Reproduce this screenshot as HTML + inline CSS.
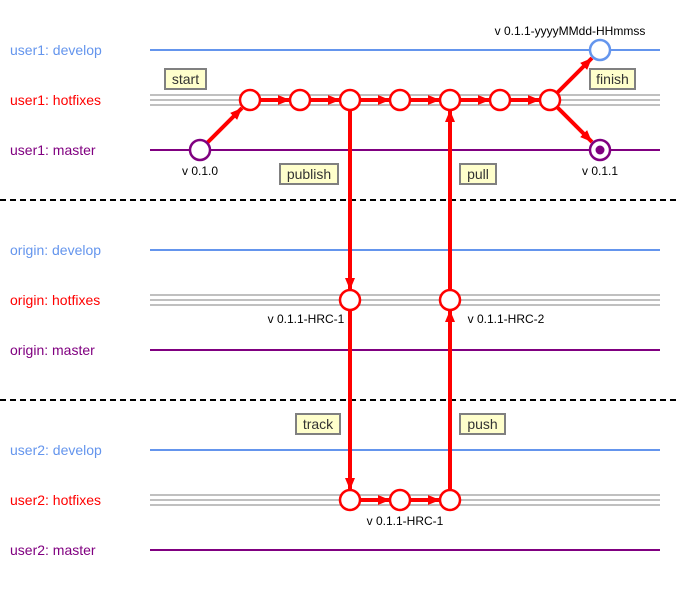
<!DOCTYPE html>
<html><head><style>body{margin:0;background:#fff}svg{display:block}</style></head><body>
<svg width="680" height="600" xmlns="http://www.w3.org/2000/svg" font-family="Liberation Sans, sans-serif">
<defs><marker id="a" markerWidth="12" markerHeight="10" refX="12" refY="5" orient="auto" markerUnits="userSpaceOnUse"><path d="M0,0L12,5L0,10z" fill="#f00"/></marker></defs>
<g font-size="14">
<text x="10" y="55" fill="#6495ed">user1: develop</text>
<text x="10" y="105" fill="#f00">user1: hotfixes</text>
<text x="10" y="155" fill="#800080">user1: master</text>
<text x="10" y="255" fill="#6495ed">origin: develop</text>
<text x="10" y="305" fill="#f00">origin: hotfixes</text>
<text x="10" y="355" fill="#800080">origin: master</text>
<text x="10" y="455" fill="#6495ed">user2: develop</text>
<text x="10" y="505" fill="#f00">user2: hotfixes</text>
<text x="10" y="555" fill="#800080">user2: master</text>
</g>
<g stroke-width="2">
<line x1="150" y1="50" x2="660" y2="50" stroke="#6495ed"/>
<line x1="150" y1="150" x2="660" y2="150" stroke="#800080"/>
<line x1="150" y1="250" x2="660" y2="250" stroke="#6495ed"/>
<line x1="150" y1="350" x2="660" y2="350" stroke="#800080"/>
<line x1="150" y1="450" x2="660" y2="450" stroke="#6495ed"/>
<line x1="150" y1="550" x2="660" y2="550" stroke="#800080"/>
</g>
<g stroke="#c0c0c0" stroke-width="2">
<line x1="150" y1="95" x2="660" y2="95"/><line x1="150" y1="100" x2="660" y2="100"/><line x1="150" y1="105" x2="660" y2="105"/>
<line x1="150" y1="295" x2="660" y2="295"/><line x1="150" y1="300" x2="660" y2="300"/><line x1="150" y1="305" x2="660" y2="305"/>
<line x1="150" y1="495" x2="660" y2="495"/><line x1="150" y1="500" x2="660" y2="500"/><line x1="150" y1="505" x2="660" y2="505"/>
</g>
<g stroke="#000" stroke-width="2" stroke-dasharray="6,4">
<line x1="0" y1="200" x2="680" y2="200"/><line x1="0" y1="400" x2="680" y2="400"/>
</g>
<g stroke="#f00" stroke-width="4" marker-end="url(#a)">
<line x1="207" y1="143" x2="242" y2="108"/>
<line x1="260" y1="100" x2="290" y2="100"/>
<line x1="310" y1="100" x2="340" y2="100"/>
<line x1="360" y1="100" x2="390" y2="100"/>
<line x1="410" y1="100" x2="440" y2="100"/>
<line x1="460" y1="100" x2="490" y2="100"/>
<line x1="510" y1="100" x2="540" y2="100"/>
<line x1="557" y1="93" x2="592" y2="58"/>
<line x1="557" y1="107" x2="592" y2="142"/>
<line x1="350" y1="110" x2="350" y2="290"/>
<line x1="350" y1="310" x2="350" y2="490"/>
<line x1="360" y1="500" x2="390" y2="500"/>
<line x1="410" y1="500" x2="440" y2="500"/>
<line x1="450" y1="490" x2="450" y2="310"/>
<line x1="450" y1="290" x2="450" y2="110"/>
</g>
<g fill="#fff" stroke="#f00" stroke-width="2.5">
<circle cx="250" cy="100" r="10"/><circle cx="300" cy="100" r="10"/><circle cx="350" cy="100" r="10"/><circle cx="400" cy="100" r="10"/><circle cx="450" cy="100" r="10"/><circle cx="500" cy="100" r="10"/><circle cx="550" cy="100" r="10"/>
<circle cx="350" cy="300" r="10"/><circle cx="450" cy="300" r="10"/>
<circle cx="350" cy="500" r="10"/><circle cx="400" cy="500" r="10"/><circle cx="450" cy="500" r="10"/>
</g>
<circle cx="600" cy="50" r="10" fill="#fff" stroke="#6495ed" stroke-width="2.5"/>
<circle cx="200" cy="150" r="10" fill="#fff" stroke="#800080" stroke-width="2.5"/>
<circle cx="600" cy="150" r="10" fill="#fff" stroke="#800080" stroke-width="2.5"/>
<circle cx="600" cy="150" r="4.5" fill="#800080"/>
<g font-size="12" fill="#000" text-anchor="middle">
<text x="200" y="175">v 0.1.0</text>
<text x="600" y="175">v 0.1.1</text>
<text x="570" y="35">v 0.1.1-yyyyMMdd-HHmmss</text>
<text x="306" y="323">v 0.1.1-HRC-1</text>
<text x="506" y="323">v 0.1.1-HRC-2</text>
<text x="405" y="525">v 0.1.1-HRC-1</text>
</g>
<g fill="#ffffcc" stroke="#808080" stroke-width="2">
<rect x="165" y="69" width="41" height="20"/>
<rect x="280" y="164" width="58" height="20"/>
<rect x="460" y="164" width="36" height="20"/>
<rect x="590" y="69" width="45" height="20"/>
<rect x="296" y="414" width="44" height="20"/>
<rect x="460" y="414" width="45" height="20"/>
</g>
<g font-size="14" fill="#333" text-anchor="middle">
<text x="185.5" y="84">start</text>
<text x="309" y="179">publish</text>
<text x="478" y="179">pull</text>
<text x="612.5" y="84">finish</text>
<text x="318" y="429">track</text>
<text x="482.5" y="429">push</text>
</g>
</svg>
</body></html>
